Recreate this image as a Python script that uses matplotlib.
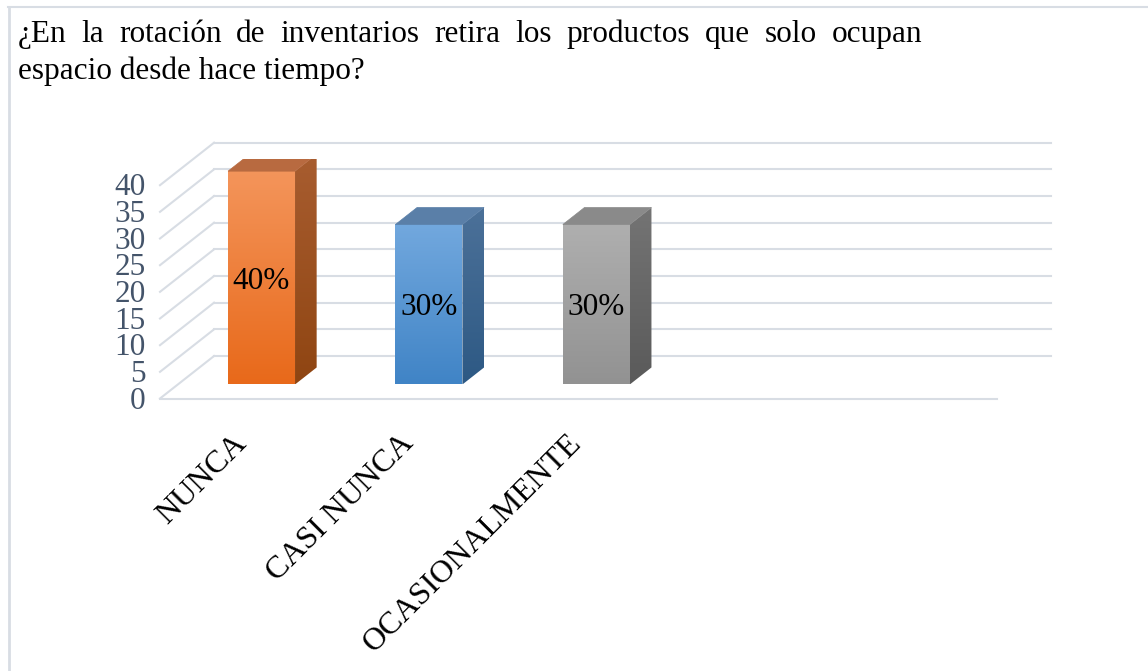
import numpy as np
import matplotlib.pyplot as plt
from matplotlib.patches import Polygon
from matplotlib.colors import to_rgb
from matplotlib.lines import Line2D

# datos del grafico
categories = ["NUNCA", "CASI NUNCA", "OCASIONALMENTE"]
values = [40, 30, 30]
value_labels = ["40%", "30%", "30%"]
y_ticks = [0, 5, 10, 15, 20, 25, 30, 35, 40]
title_line1 = "¿En la rotación de inventarios retira los productos que solo ocupan"
title_line2 = "espacio desde hace tiempo?"

# colores (frente arriba, frente abajo, lado arriba, lado abajo, tapa)
bar_colors = [
    ("#F4955B", "#E8691A", "#A85D30", "#8F4512", "#B86A40"),
    ("#72A8DE", "#4084C6", "#4C7199", "#2D5984", "#5A7FA8"),
    ("#AFAFAF", "#929292", "#747474", "#5A5A5A", "#8A8A8A"),
]

n_slots = 5          # huecos de categoria en el eje
DX, DY = 0.323, 7.97  # profundidad del suelo en unidades de datos
F_FRONT, F_BACK = 0.33, 0.73
BAR_W = 0.4
GRID = "#D8DDE4"
FONT = "Liberation Serif"

W, H = 1148, 671
fig = plt.figure(figsize=(W / 100, H / 100), dpi=100)
fig.patch.set_facecolor("white")

# marco de la imagen (arriba e izquierda)
fig.add_artist(Line2D([8 / W, 1], [1 - 7 / H, 1 - 7 / H], color=GRID, lw=1.5))
fig.add_artist(Line2D([8.5 / W, 8.5 / W], [0, 1 - 7 / H], color=GRID, lw=2))

ax = fig.add_axes([160 / W, (H - 398.5) / H, 837 / W, 45 * 5.333 / H])
ax.set_axis_off()


def gradient_poly(verts, c_top, c_bottom, z):
    poly = Polygon(verts, closed=True, facecolor="none", edgecolor="none", zorder=z)
    ax.add_patch(poly)
    xs = [p[0] for p in verts]
    ys = [p[1] for p in verts]
    t = np.linspace(0, 1, 200)[:, None, None]
    top = np.array(to_rgb(c_top))[None, None, :]
    bot = np.array(to_rgb(c_bottom))[None, None, :]
    img = top + (bot - top) * t
    im = ax.imshow(img, extent=[min(xs), max(xs), min(ys), max(ys)], origin="upper",
                   aspect="auto", interpolation="bilinear", zorder=z)
    im.set_clip_path(poly)


# lineas de division: pared izquierda, pared del fondo y borde del suelo
x_left, x_right = -0.5, n_slots - 0.5
for v in y_ticks:
    ax.plot([x_left, x_left + DX], [v, v + DY], color=GRID, lw=1.5, zorder=1, clip_on=False)
    ax.plot([x_left + DX, x_right + DX], [v + DY, v + DY], color=GRID, lw=1.5, zorder=1, clip_on=False)
ax.plot([x_left, x_right], [0, 0], color=GRID, lw=1.5, zorder=1, clip_on=False)

# etiquetas del eje y
for v in y_ticks:
    ax.annotate(str(v), xy=(x_left, v), xytext=(-10.5, -2), textcoords="offset points",
                ha="right", va="center", fontsize=22.5, family=FONT, color="#44546A",
                annotation_clip=False)

# barras con efecto 3D
for i, v in enumerate(values):
    ftop, fbot, stop, sbot, tcol = bar_colors[i]
    x0 = i - BAR_W / 2
    x1 = i + BAR_W / 2
    fx, fy = F_FRONT * DX, F_FRONT * DY
    bx, by = F_BACK * DX, F_BACK * DY
    front = [(x0 + fx, fy), (x1 + fx, fy), (x1 + fx, v + fy), (x0 + fx, v + fy)]
    side = [(x1 + fx, fy), (x1 + bx, by), (x1 + bx, v + by), (x1 + fx, v + fy)]
    top = [(x0 + fx, v + fy), (x1 + fx, v + fy), (x1 + bx, v + by), (x0 + bx, v + by)]
    gradient_poly(front, ftop, fbot, 3)
    gradient_poly(side, stop, sbot, 3)
    ax.add_patch(Polygon(top, closed=True, facecolor=tcol, edgecolor=tcol, lw=0.5, zorder=3))
    ax.text(i + fx, fy + v / 2, value_labels[i], ha="center", va="center_baseline",
            fontsize=22.5, family=FONT, color="black", zorder=5)

# etiquetas de categoria giradas
for i, c in enumerate(categories):
    ax.annotate(c, xy=(i, 0), xytext=(-1, -29), textcoords="offset points",
                rotation=45, rotation_mode="anchor", ha="right", va="center",
                fontsize=23, family=FONT, color="black", annotation_clip=False)

ax.set_xlim(x_left, x_right)
ax.set_ylim(0, 45)

# titulo justificado en la primera linea
renderer = fig.canvas.get_renderer()
words = title_line1.split(" ")
word_texts = [fig.text(0, 0, w, fontsize=22.5, family=FONT, va="baseline") for w in words]
widths = [t.get_window_extent(renderer).width for t in word_texts]
left_px, right_px = 18, 922
gap = (right_px - left_px - sum(widths)) / (len(words) - 1)
x = left_px
for t, wdt in zip(word_texts, widths):
    t.set_position((x / W, 1 - 42 / H))
    x += wdt + gap
fig.text(left_px / W, 1 - 79 / H, title_line2, fontsize=22.5, family=FONT, va="baseline")

fig.savefig("out.png", dpi=100, facecolor="white")
